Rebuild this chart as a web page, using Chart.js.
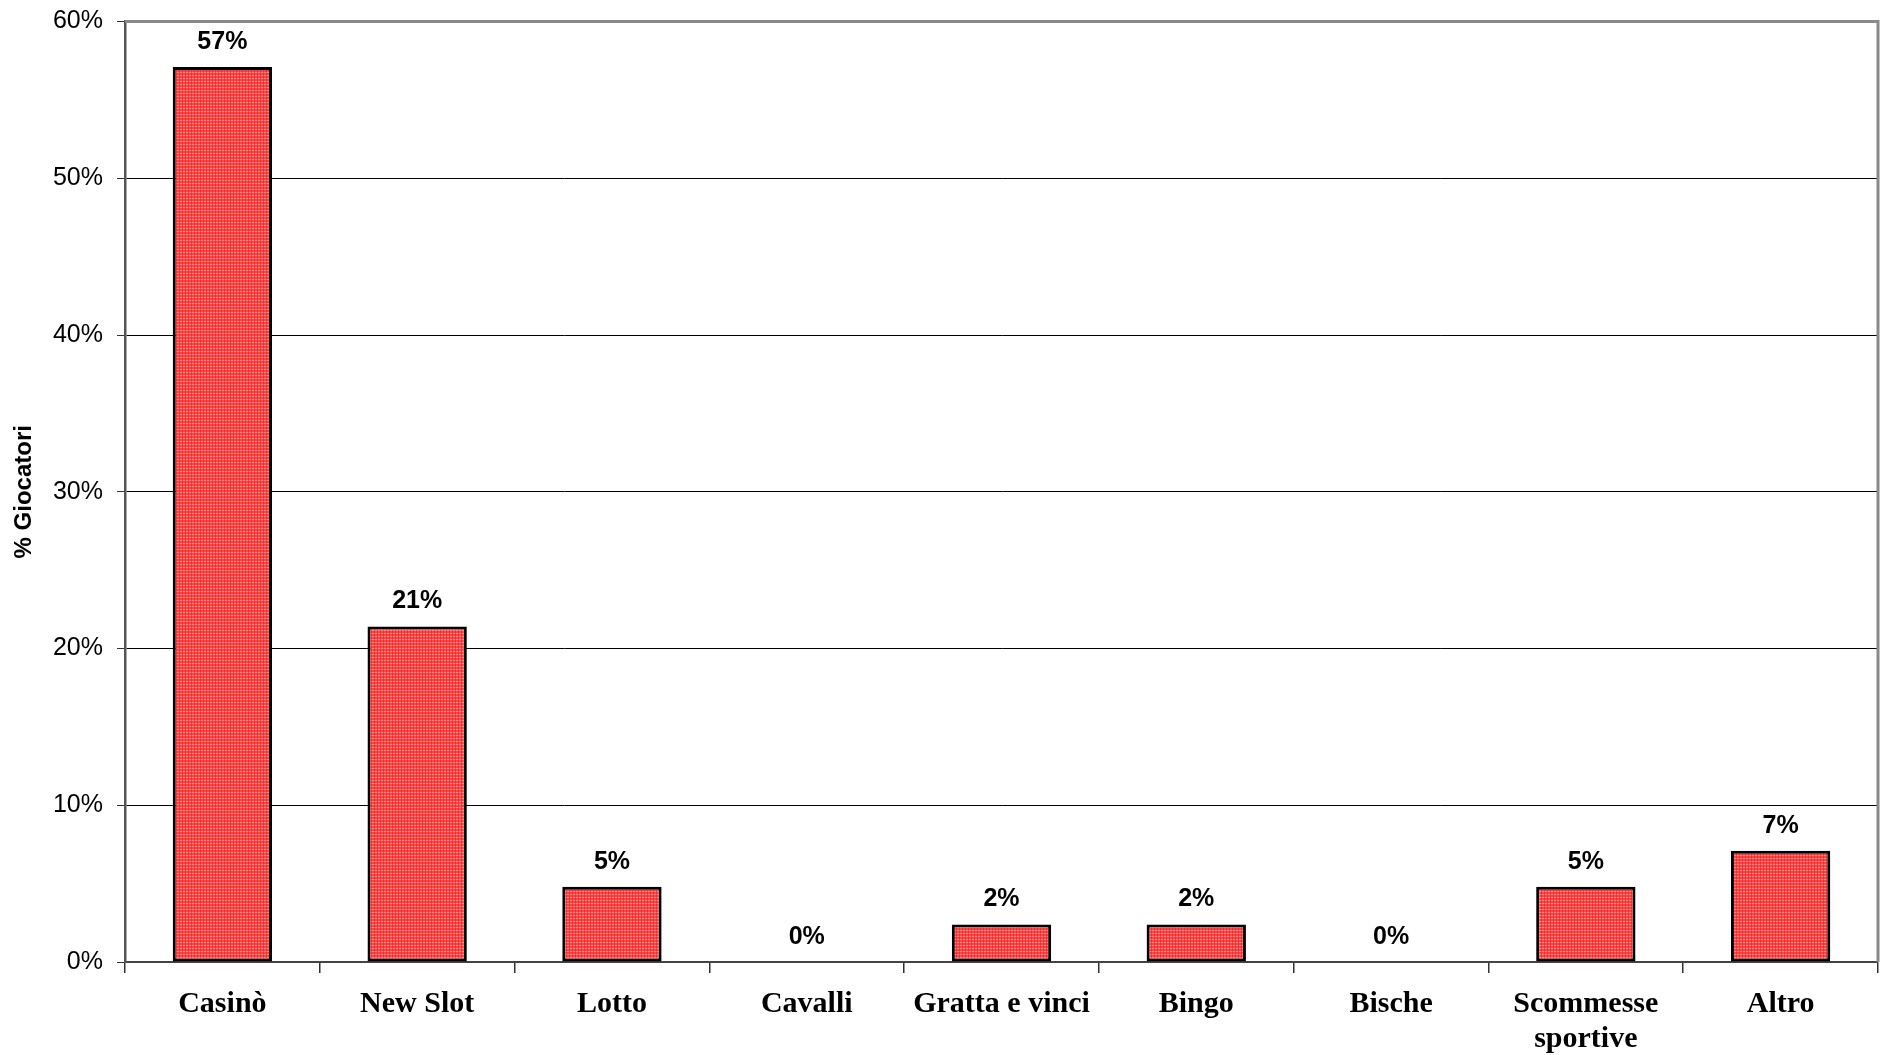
<!DOCTYPE html>
<html>
<head>
<meta charset="utf-8">
<script src="https://cdn.jsdelivr.net/npm/chart.js@4.4.1/dist/chart.umd.min.js"></script>
<style>
  html, body { margin: 0; padding: 0; background: #fff; }
  #wrap { width: 1885px; height: 1055px; }
</style>
</head>
<body>
<div id="wrap"><canvas id="mycanvas" width="1885" height="1055"></canvas></div>
<script>
// categorie e percentuali di giocatori
var categories = ['Casinò', 'New Slot', 'Lotto', 'Cavalli', 'Gratta e vinci', 'Bingo', 'Bische', ['Scommesse', 'sportive'], 'Altro'];
var giocatori = [57.1, 21.4, 4.8, 0, 2.4, 2.4, 0, 4.8, 7.1];
var yTicks = [0, 10, 20, 30, 40, 50, 60];

/* dotted red fill for the bars */
function barPattern() {
	var c = document.createElement('canvas');
	c.width = 3; c.height = 3;
	var g = c.getContext('2d');
	g.fillStyle = 'rgb(255,66,66)';
	g.fillRect(0, 0, 3, 3);
	g.fillStyle = 'rgb(255,135,135)';
	g.fillRect(0, 0, 2, 1);
	g.fillStyle = 'rgb(235,50,50)';
	g.fillRect(2, 1, 1, 2);
	return g.createPattern(c, 'repeat');
}

/* value labels above bars */
var valueLabels = {
	id: 'valueLabels',
	afterDatasetsDraw: function(chart) {
		var ctx = chart.ctx;
		var meta = chart.getDatasetMeta(0);
		ctx.save();
		ctx.font = 'bold 25px "Liberation Sans", Arial, sans-serif';
		ctx.fillStyle = '#000';
		ctx.textAlign = 'center';
		ctx.textBaseline = 'middle';
		meta.data.forEach(function(bar, i) {
			ctx.fillText(Math.round(giocatori[i]) + '%', bar.x, bar.y - 25);
		});
		ctx.restore();
	}
};

/* grey frame on top and right of the plot */
var plotFrame = {
	id: 'plotFrame',
	afterDraw: function(chart) {
		var a = chart.chartArea;
		var ctx = chart.ctx;
		ctx.save();
		ctx.strokeStyle = '#8a8a8a';
		ctx.lineWidth = 3;
		ctx.beginPath();
		ctx.moveTo(a.left, a.top);
		ctx.lineTo(a.right, a.top);
		ctx.lineTo(a.right, a.bottom);
		ctx.stroke();
		ctx.restore();
	}
};

var ctx = document.getElementById('mycanvas').getContext('2d');

var chartdata = {
	labels: categories,
	datasets: [{
		label: '% Giocatori',
		data: giocatori,
		backgroundColor: barPattern(),
		borderColor: '#000',
		borderWidth: 3,
		borderSkipped: false,
		categoryPercentage: 0.51,
		barPercentage: 1
	}]
};

var barGraph = new Chart(ctx, {
	type: 'bar',
	data: chartdata,
	options: {
		responsive: false,
		animation: false,
		layout: { padding: { top: 20, right: 7, bottom: 0, left: 0 } },
		plugins: {
			legend: { display: false },
			tooltip: { enabled: false }
		},
		scales: {
			x: {
				grid: {
					offset: true,
					drawOnChartArea: false,
					drawTicks: true,
					tickLength: 11,
					color: '#333',
					lineWidth: 1.5
				},
				border: { color: '#444', width: 2 },
				ticks: {
					color: '#000',
					padding: 14,
					maxRotation: 0,
					autoSkip: false,
					font: { family: '"Liberation Serif", "Times New Roman", serif', size: 30, weight: 'bold', lineHeight: 1.15 }
				},
				afterFit: function(scale) { scale.height = 93; }
			},
			y: {
				min: 0,
				max: 60,
				afterBuildTicks: function(scale) {
					scale.ticks = yTicks.map(function(v) { return { value: v }; });
				},
				grid: {
					color: function(c) { return c.tick && c.tick.value === 60 ? '#8a8a8a' : '#000'; },
					lineWidth: 1,
					tickLength: 8,
					tickColor: '#333'
				},
				border: { color: '#555', width: 2.5 },
				ticks: {
					color: '#000',
					padding: 14,
					font: { family: '"Liberation Sans", Arial, sans-serif', size: 25, lineHeight: 0.6 },
					callback: function(v) { return v + '%'; }
				},
				title: {
					display: true,
					text: '% Giocatori',
					color: '#000',
					padding: { top: 10, bottom: 4 },
					font: { family: '"Liberation Sans", Arial, sans-serif', size: 24, weight: 'bold' }
				},
				afterFit: function(scale) { scale.width = 125; }
			}
		}
	},
	plugins: [valueLabels, plotFrame]
});
</script>
</body>
</html>
